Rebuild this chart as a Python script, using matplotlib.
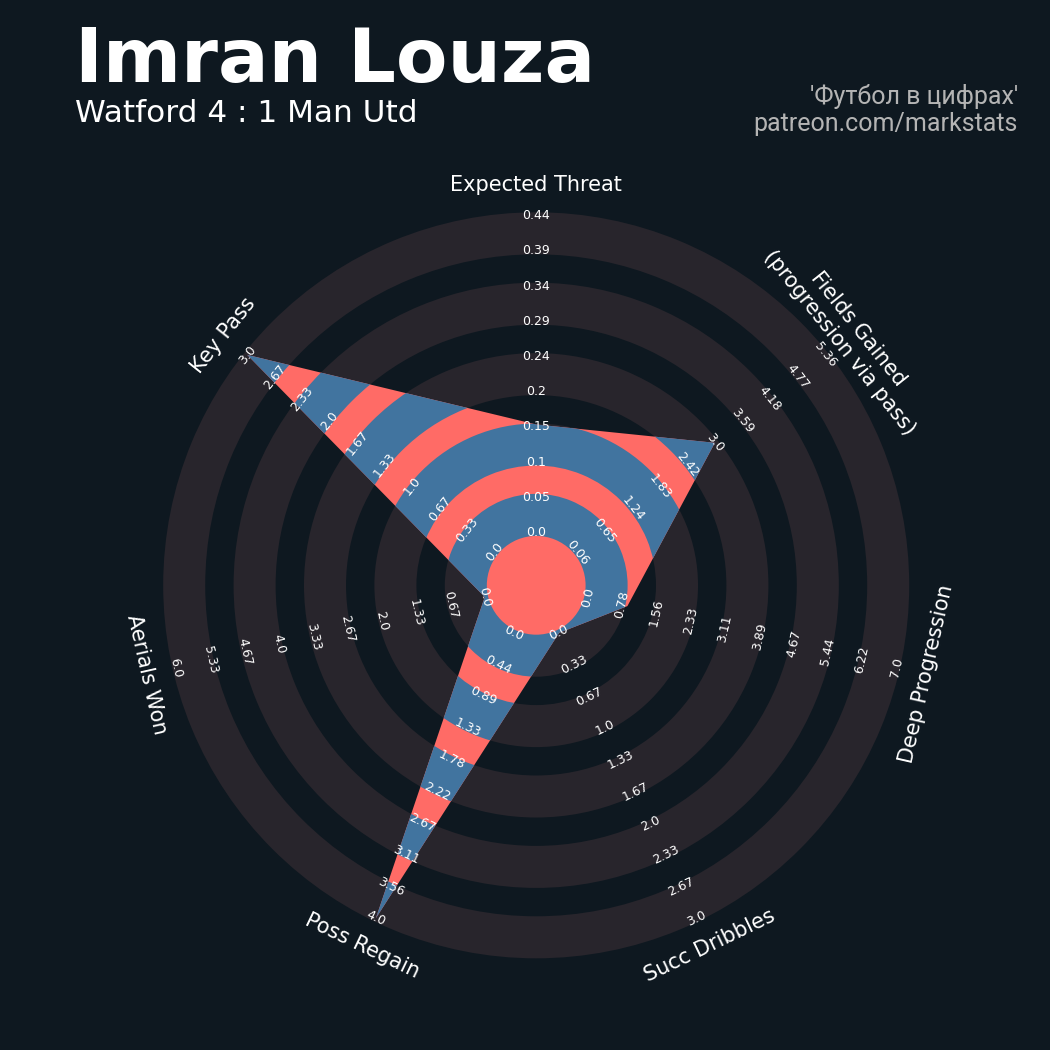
import numpy as np
import matplotlib
matplotlib.use("Agg")
import matplotlib.pyplot as plt
from matplotlib.patches import Wedge, Polygon

# radar data (clockwise from the top)
params = ["Expected Threat", "Fields Gained\n(progression via pass)", "Deep Progression",
          "Succ Dribbles", "Poss Regain", "Aerials Won", "Key Pass"]
low = [0.0, 0.06, 0.0, 0.0, 0.0, 0.0, 0.0]
high = [0.44, 5.36, 7.0, 3.0, 4.0, 6.0, 3.0]
values = [0.15, 3.0, 0.9, 0.0, 4.0, 0.0, 3.0]

title = "Imran Louza"
subtitle = "Watford 4 : 1 Man Utd"
credit_1 = "'Футбол в цифрах'"
credit_2 = "patreon.com/markstats"

BG = "#0e1820"
RING = "#28252c"
BLUE = "#41749f"
RED = "#ff6b66"

NUM_RINGS = 9
R0 = 1.5      # centre circle radius
W = 1.0       # ring width
E = 0.097     # rings look a bit wider than nominal

fig = plt.figure(figsize=(10.5, 10.5), dpi=100)
fig.patch.set_facecolor(BG)
ax = fig.add_axes([0.07486, 0.00676, 0.87162, 0.87162])
ax.set_facecolor(BG)
ax.set_xlim(-13, 13)
ax.set_ylim(-13, 13)
ax.set_aspect("equal")
ax.axis("off")

n = len(params)
angles = np.deg2rad(90 - np.arange(n) * 360 / n)


def to_radius(v, lo, hi):
    return R0 + (v - lo) / (hi - lo) * NUM_RINGS * W


# background rings
for k in range(0, NUM_RINGS, 2):
    ax.add_patch(Wedge((0, 0), R0 + (k + 1) * W + E, 0, 360, width=W + 2 * E,
                       facecolor=RING, edgecolor="none", zorder=1))

# radar polygon
rad = [to_radius(v, lo, hi) for v, lo, hi in zip(values, low, high)]
verts = np.column_stack([np.cos(angles) * rad, np.sin(angles) * rad])
poly = Polygon(verts, closed=True, facecolor=RED, edgecolor="none", zorder=2)
ax.add_patch(poly)

# rings inside the polygon
for k in range(0, NUM_RINGS, 2):
    w = Wedge((0, 0), R0 + (k + 1) * W + E, 0, 360, width=W + 2 * E,
              facecolor=BLUE, edgecolor="none", zorder=3)
    ax.add_patch(w)
    w.set_clip_path(poly)


def text_rot(a):
    rot = np.rad2deg(a) - 90
    rot = (rot + 180) % 360 - 180
    if rot < -90:
        rot += 180
    elif rot > 90:
        rot -= 180
    return rot


# range labels
for a, lo, hi in zip(angles, low, high):
    rot = text_rot(a)
    for j, lab in enumerate(np.linspace(lo, hi, NUM_RINGS + 1)):
        r = R0 + j * W
        ax.text(np.cos(a) * r, np.sin(a) * r, str(round(lab, 2)), color="white",
                fontsize=9, ha="center", va="center", rotation=rot,
                rotation_mode="anchor", zorder=5)

# parameter labels
R_PARAM = 11.37
for a, p in zip(angles, params):
    ax.text(np.cos(a) * R_PARAM, np.sin(a) * R_PARAM, p, color="white", fontsize=15,
            ha="center", va="center", rotation=text_rot(a), rotation_mode="anchor",
            multialignment="center", zorder=5)

fig.text(75 / 1050, 1 - 82 / 1050, title, fontsize=54, fontweight="bold",
         color="white", va="baseline", ha="left")
fig.text(75 / 1050, 1 - 122 / 1050, subtitle, fontsize=22.4, color="white",
         va="baseline", ha="left")
fig.text(1018 / 1050, 1 - 104 / 1050, credit_1, fontsize=18, family="Roboto",
         color="#b4b4b4", va="baseline", ha="right")
fig.text(1018 / 1050, 1 - 131 / 1050, credit_2, fontsize=18, family="Roboto",
         color="#b4b4b4", va="baseline", ha="right")

fig.savefig("out.png", dpi=100, facecolor=BG)
